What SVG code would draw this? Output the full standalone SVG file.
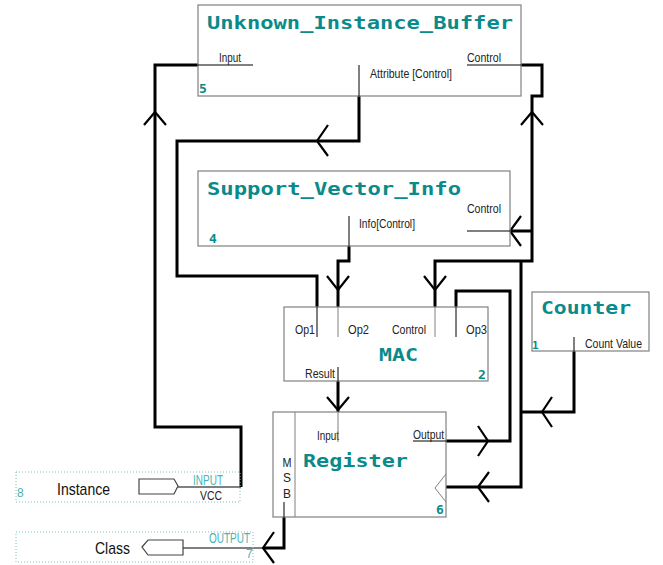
<svg xmlns="http://www.w3.org/2000/svg" width="663" height="565" viewBox="0 0 663 565">
<defs>
<style>
.box{fill:#fff;stroke:#808080;stroke-width:1.2}
.pin{stroke:#000;stroke-width:1;fill:none}
.ping{stroke:#808080;stroke-width:1;fill:none}
.wire{stroke:#000;stroke-width:3;fill:none;stroke-linejoin:miter}
.arr{stroke:#000;stroke-width:2.2;fill:none}
.title{font-family:"DejaVu Sans Mono","Liberation Mono",monospace;font-weight:bold;font-size:18px;fill:#0a8a8a}
.lbl{font-family:"Liberation Sans",Arial,sans-serif;font-size:13.5px;fill:#222}
.num{font-family:"DejaVu Sans Mono","Liberation Mono",monospace;font-weight:bold;font-size:13px;fill:#0a8a8a}
.tl{font-family:"Liberation Sans",Arial,sans-serif;font-size:14px;fill:#4db3b3}
.dot{fill:none;stroke:#7cc4c4;stroke-width:1;stroke-dasharray:1,2}
</style>
</defs>
<rect width="663" height="565" fill="#fff"/>

<g id="connectors">
<polyline class="wire" points="198,65 155,65 155,427 241,427 241,487"/>
<line class="pin" x1="178" y1="487" x2="241" y2="487"/>
<polyline class="arr" points="144,125 155,112 166,125"/>
<polyline class="wire" points="359,96 359,141 177,141 177,276 317,276 317,307"/>
<polyline class="arr" points="328,125 317,141 328,156"/>
<polyline class="wire" points="521,65 542,65 542,96 532,96 532,261 435,261 435,307"/>
<polyline class="arr" points="521,125 532,112 543,125"/>
<line class="wire" x1="510" y1="231" x2="532" y2="231"/>
<polyline class="arr" points="521,216 510,231 521,246"/>
<polyline class="arr" points="424,276 435,290 446,276"/>
<polyline class="wire" points="349,246 349,261 338,261 338,307"/>
<polyline class="arr" points="327,276 338,290 349,276"/>
<polyline class="wire" points="456,307 456,291 510,291 510,441 446,441"/>
<polyline class="arr" points="478,426 488,441 478,456"/>
<polyline class="wire" points="574,351 574,412 521,412"/>
<polyline class="wire" points="521,261 521,487 446,487"/>
<polyline class="arr" points="552,397 542,412 552,427"/>
<polyline class="arr" points="489,472 478,487 489,502"/>
<line class="wire" x1="338" y1="381" x2="338" y2="412"/>
<polyline class="arr" points="327,397 338,410 349,397"/>
<polyline class="wire" points="284,517 284,548 263,548"/>
<line class="pin" x1="183" y1="548" x2="263" y2="548"/>
<polyline class="arr" points="274,532 263,548 274,563"/>
</g>

<g id="node5">
<rect class="box" x="198" y="5" width="323" height="91"/>
<text class="title" x="207" y="29" textLength="306" lengthAdjust="spacingAndGlyphs">Unknown_Instance_Buffer</text>
<text class="lbl" x="219" y="62" textLength="22" lengthAdjust="spacingAndGlyphs">Input</text>
<line class="pin" x1="198" y1="65" x2="253" y2="65"/>
<line class="pin" x1="359" y1="65" x2="359" y2="96"/>
<text class="lbl" x="370" y="78" textLength="82" lengthAdjust="spacingAndGlyphs">Attribute [Control]</text>
<text class="lbl" x="467" y="62" textLength="34" lengthAdjust="spacingAndGlyphs">Control</text>
<line class="pin" x1="467" y1="65" x2="521" y2="65"/>
<text class="num" x="199" y="93">5</text>
</g>

<g id="node4">
<rect class="box" x="198" y="171" width="312" height="75"/>
<text class="title" x="207" y="195" textLength="254" lengthAdjust="spacingAndGlyphs">Support_Vector_Info</text>
<line class="pin" x1="349" y1="216" x2="349" y2="246"/>
<text class="lbl" x="359" y="228" textLength="56" lengthAdjust="spacingAndGlyphs">Info[Control]</text>
<text class="lbl" x="467" y="213" textLength="34" lengthAdjust="spacingAndGlyphs">Control</text>
<line class="pin" x1="467" y1="231" x2="510" y2="231"/>
<text class="num" x="209" y="243">4</text>
</g>

<g id="node2">
<rect class="box" x="284" y="307" width="204" height="74"/>
<line class="pin" x1="317" y1="307" x2="317" y2="337"/>
<line class="ping" x1="338" y1="307" x2="338" y2="337"/>
<line class="ping" x1="435" y1="307" x2="435" y2="337"/>
<line class="pin" x1="456" y1="307" x2="456" y2="337"/>
<text class="lbl" x="295" y="334" textLength="20" lengthAdjust="spacingAndGlyphs">Op1</text>
<text class="lbl" x="348" y="334" textLength="21" lengthAdjust="spacingAndGlyphs">Op2</text>
<text class="lbl" x="392" y="334" textLength="34" lengthAdjust="spacingAndGlyphs">Control</text>
<text class="lbl" x="466" y="334" textLength="21" lengthAdjust="spacingAndGlyphs">Op3</text>
<text class="title" x="379" y="361" textLength="39" lengthAdjust="spacingAndGlyphs">MAC</text>
<text class="lbl" x="305" y="378" textLength="30" lengthAdjust="spacingAndGlyphs">Result</text>
<line class="pin" x1="338" y1="367" x2="338" y2="381"/>
<text class="num" x="478" y="379">2</text>
</g>

<g id="node1">
<rect class="box" x="532" y="292" width="117" height="59"/>
<text class="title" x="541" y="314" textLength="90" lengthAdjust="spacingAndGlyphs">Counter</text>
<line class="pin" x1="574" y1="337" x2="574" y2="351"/>
<text class="lbl" x="585" y="348" textLength="57" lengthAdjust="spacingAndGlyphs">Count Value</text>
<text class="num" x="532" y="349" style="font-size:11px">1</text>
</g>

<g id="node6">
<rect class="box" x="273" y="412" width="173" height="105"/>
<line class="ping" x1="295" y1="412" x2="295" y2="517"/>
<text class="lbl" x="287" y="467" text-anchor="middle" textLength="9" lengthAdjust="spacingAndGlyphs">M</text>
<text class="lbl" x="287" y="482" text-anchor="middle" textLength="8" lengthAdjust="spacingAndGlyphs">S</text>
<text class="lbl" x="287" y="498" text-anchor="middle" textLength="8" lengthAdjust="spacingAndGlyphs">B</text>
<line class="pin" x1="284" y1="502" x2="284" y2="517"/>
<text class="lbl" x="317" y="440" textLength="22" lengthAdjust="spacingAndGlyphs">Input</text>
<line class="ping" x1="338" y1="412" x2="338" y2="442"/>
<text class="lbl" x="413" y="439" textLength="31" lengthAdjust="spacingAndGlyphs">Output</text>
<line class="pin" x1="413" y1="441" x2="446" y2="441"/>
<text class="title" x="303" y="467" textLength="105" lengthAdjust="spacingAndGlyphs">Register</text>
<polyline class="ping" points="446,474 435,488 446,502"/>
<text class="num" x="436" y="514">6</text>
</g>

<g id="node8">
<rect class="dot" x="16" y="472" width="224" height="30"/>
<text class="tl" x="17" y="497" style="font-size:12px">8</text>
<text class="lbl" x="57" y="495" style="font-size:17px;fill:#111" textLength="53" lengthAdjust="spacingAndGlyphs">Instance</text>
<polygon points="139,479 174,479 178,486 174,494 139,494" fill="#fff" stroke="#444" stroke-width="1.2"/>
<text class="tl" x="193" y="485" textLength="30" lengthAdjust="spacingAndGlyphs">INPUT</text>
<text class="lbl" x="200" y="500" textLength="22" lengthAdjust="spacingAndGlyphs">VCC</text>
</g>

<g id="node7">
<rect class="dot" x="16" y="532" width="237" height="30"/>
<text class="lbl" x="95" y="554" style="font-size:17px;fill:#111" textLength="35" lengthAdjust="spacingAndGlyphs">Class</text>
<polygon points="142,547 148,540 183,540 183,555 148,555" fill="#fff" stroke="#444" stroke-width="1.2"/>
<text class="tl" x="209" y="543" textLength="41" lengthAdjust="spacingAndGlyphs">OUTPUT</text>
<text class="tl" x="246" y="558" style="font-size:12px">7</text>
</g>
</svg>
